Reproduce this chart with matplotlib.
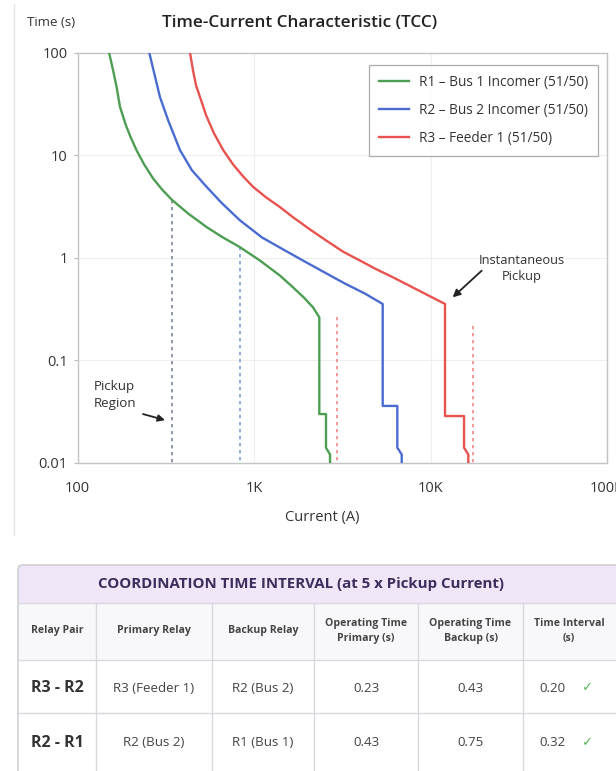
import matplotlib
matplotlib.use("Agg")
import matplotlib.pyplot as plt
from matplotlib.patches import Rectangle, FancyBboxPatch
from matplotlib.ticker import FixedLocator, FixedFormatter, NullLocator

plt.rcParams['font.family'] = ['Open Sans', 'DejaVu Sans']

# ---------------- data ----------------
r1_label = "R1 \u2013 Bus 1 Incomer (51/50)"
r2_label = "R2 \u2013 Bus 2 Incomer (51/50)"
r3_label = "R3 \u2013 Feeder 1 (51/50)"

r1_current = [151, 159, 167, 174, 188, 201, 216, 238, 268, 301, 342, 423, 540, 667, 833,
              1081, 1404, 1663, 1920, 2160, 2344, 2344, 2558, 2558, 2696, 2696]
r1_time = [100, 67.7, 45.2, 29.7, 19.6, 14.7, 11.2, 8.2, 5.95, 4.65, 3.69, 2.71, 1.99, 1.58, 1.27,
           0.941, 0.671, 0.516, 0.409, 0.329, 0.263, 0.030, 0.030, 0.0141, 0.0121, 0.009]

r2_current = [255, 271, 293, 326, 381, 445, 540, 659, 833, 1110, 1498, 1895, 2582, 3278, 4256,
              5360, 5360, 6486, 6486, 6870, 6870]
r2_time = [100, 64.8, 37.1, 22.0, 11.2, 7.14, 4.90, 3.40, 2.32, 1.58, 1.18, 0.941, 0.702, 0.561, 0.448,
           0.355, 0.036, 0.036, 0.0141, 0.0121, 0.009]

r3_current = [434, 451, 469, 494, 535, 593, 670, 760, 867, 991, 1170, 1404, 1663, 2076, 2558,
              3193, 3986, 4912, 6131, 8606, 12085, 12085, 15490, 15490, 16380, 16380]
r3_time = [100, 67.7, 48.3, 37.1, 24.6, 16.4, 11.2, 8.17, 6.23, 4.90, 3.89, 3.12, 2.49, 1.89, 1.48,
           1.15, 0.941, 0.777, 0.646, 0.479, 0.355, 0.0287, 0.0287, 0.0141, 0.0121, 0.009]

# dashed reference lines: current, top time
ref_current = [342, 833, 2942, 17340]
ref_top = [3.69, 1.27, 0.263, 0.218]
ref_colors = ['#7d8798', '#7f98d8', '#f08a8a', '#f08a8a']

x_ticks = [100, 1000, 10000, 100000]
x_ticklabels = ['100', '1K', '10K', '100K']
y_ticks = [0.01, 0.1, 1, 10, 100]
y_ticklabels = ['0.01', '0.1', '1', '10', '100']

# table
table_title = "COORDINATION TIME INTERVAL (at 5 x Pickup Current)"
table_columns = ["Relay Pair", "Primary Relay", "Backup Relay",
                 "Operating Time\nPrimary (s)", "Operating Time\nBackup (s)", "Time Interval\n(s)"]
relay_pairs = ["R3 - R2", "R2 - R1"]
primary_relays = ["R3 (Feeder 1)", "R2 (Bus 2)"]
backup_relays = ["R2 (Bus 2)", "R1 (Bus 1)"]
op_time_primary = [0.23, 0.43]
op_time_backup = [0.43, 0.75]
time_interval = [0.20, 0.32]

# ---------------- figure ----------------
W, H = 616, 771
fig = plt.figure(figsize=(W / 100, H / 100), dpi=100)
fig.patch.set_facecolor('white')

L, R, T, B = 77.5, 607, 52.7, 463
ax = fig.add_axes([L / W, 1 - B / H, (R - L) / W, (B - T) / H])

green, blue, red = '#4d9e52', '#4a6cd0', '#e8524f'
ax.plot(r1_current, r1_time, color=green, lw=1.7, label=r1_label, zorder=3)
ax.plot(r2_current, r2_time, color=blue, lw=1.7, label=r2_label, zorder=3)
ax.plot(r3_current, r3_time, color=red, lw=1.7, label=r3_label, zorder=3)

for c, top, col in zip(ref_current, ref_top, ref_colors):
    ax.plot([c, c], [top, 0.01], color=col, lw=1.2, ls=(0, (2, 2.2)), zorder=2)

ax.set_xscale('log')
ax.set_yscale('log')
ax.set_xlim(100, 100000)
ax.set_ylim(0.01, 100)
ax.xaxis.set_major_locator(FixedLocator(x_ticks))
ax.xaxis.set_major_formatter(FixedFormatter(x_ticklabels))
ax.yaxis.set_major_locator(FixedLocator(y_ticks))
ax.yaxis.set_major_formatter(FixedFormatter(y_ticklabels))
ax.xaxis.set_minor_locator(NullLocator())
ax.yaxis.set_minor_locator(NullLocator())
ax.tick_params(axis='both', labelsize=10.5, colors='#333333', length=3, width=0.8)
ax.tick_params(axis='x', length=0, pad=13)
ax.tick_params(axis='y', color='#bbbbbb', pad=4)
ax.grid(True, color='#efefef', lw=0.8, zorder=0)
for s in ax.spines.values():
    s.set_color('#c4c4c4')
    s.set_linewidth(1.0)

leg = ax.legend(loc='upper right', bbox_to_anchor=((598 - L) / (R - L), (B - 65) / (B - T)),
                fontsize=9.8, frameon=True, fancybox=False, borderpad=0.75,
                labelspacing=0.95, handlelength=2.2, handletextpad=0.7, borderaxespad=0)
leg.get_frame().set_edgecolor('#999999')
leg.get_frame().set_linewidth(0.9)
for t in leg.get_texts():
    t.set_color('#333333')

# annotations
ax.text(33000, 0.786, "Instantaneous\nPickup", fontsize=9.3, color='#333333',
        ha='center', va='center', linespacing=1.35)
ax.annotate("", xy=(13360, 0.412), xytext=(19500, 0.75),
            arrowprops=dict(arrowstyle='-|>', color='#222222', lw=1.3, mutation_scale=11,
                            shrinkA=0, shrinkB=0))
ax.text(124, 0.0461, "Pickup\nRegion", fontsize=9.6, color='#333333',
        ha='left', va='center', linespacing=1.35)
ax.annotate("", xy=(313, 0.0262), xytext=(235, 0.030),
            arrowprops=dict(arrowstyle='-|>', color='#222222', lw=1.3, mutation_scale=10,
                            shrinkA=0, shrinkB=0))

# ---------------- overlay (titles and table), pixel coordinates ----------------
ov = fig.add_axes([0, 0, 1, 1], zorder=-1)
ov.set_xlim(0, W)
ov.set_ylim(H, 0)
ov.axis('off')

ov.plot([14, 14], [4, 535], color='#e4e4e4', lw=1)
ov.text(27, 23, "Time (s)", fontsize=9.5, color='#333333', ha='left', va='center')
ov.text(300, 23, "Time-Current Characteristic (TCC)", fontsize=12.3, color='#222222',
        ha='center', va='center', fontweight='semibold')
ov.text(322, 517, "Current (A)", fontsize=10.5, color='#333333', ha='center', va='center')

ov2 = fig.add_axes([0, 0, 1, 1], zorder=5)
ov2.set_xlim(0, W)
ov2.set_ylim(H, 0)
ov2.axis('off')
ov2.patch.set_alpha(0)

col_edges = [18, 96, 212, 314, 418, 523, 640]
row_edges = [565, 603, 660, 713, 790]
line_col = '#d8d8de'

ov2.add_patch(Rectangle((18, 565), 640, 38, facecolor='#efe6f7', edgecolor='none'))
ov2.add_patch(Rectangle((18, 603), 640, 57, facecolor='#f8f8fa', edgecolor='none'))
ov2.add_patch(FancyBboxPatch((18, 565), 640, 230, boxstyle='round,pad=0,rounding_size=5',
                             facecolor='none', edgecolor='#cfcfd6', lw=1.2))
for y in row_edges[1:-1]:
    ov2.plot([18, 640], [y, y], color=line_col, lw=1)
for x in col_edges[1:-1]:
    ov2.plot([x, x], [603, 790], color=line_col, lw=1)

ov2.text(301, 584, table_title, fontsize=10.8, fontweight='bold', color='#3b2d5c',
         ha='center', va='center')
centers = [(col_edges[i] + min(col_edges[i + 1], 616)) / 2 for i in range(6)]
centers[5] = 569
for c, name in zip(centers, table_columns):
    ov2.text(c, 631, name, fontsize=7.6, fontweight='bold', color='#444444',
             ha='center', va='center', linespacing=1.45)

row_y = [688, 743]
for i in range(2):
    y = row_y[i]
    ov2.text(centers[0], y, relay_pairs[i], fontsize=11.5, fontweight='bold', color='#333333',
             ha='center', va='center')
    ov2.text(centers[1], y, primary_relays[i], fontsize=9.6, color='#444444', ha='center', va='center')
    ov2.text(centers[2], y, backup_relays[i], fontsize=9.6, color='#444444', ha='center', va='center')
    ov2.text(centers[3], y, f"{op_time_primary[i]:.2f}", fontsize=9.6, color='#444444', ha='center', va='center')
    ov2.text(centers[4], y, f"{op_time_backup[i]:.2f}", fontsize=9.6, color='#444444', ha='center', va='center')
    ov2.text(552, y, f"{time_interval[i]:.2f}", fontsize=9.6, color='#444444', ha='center', va='center')
    ov2.text(587, y, "\u2713", fontsize=9.5, color='#5cb85c', ha='center', va='center',
             family=['DejaVu Sans'])

fig.savefig('out.png', dpi=100, facecolor='white')
